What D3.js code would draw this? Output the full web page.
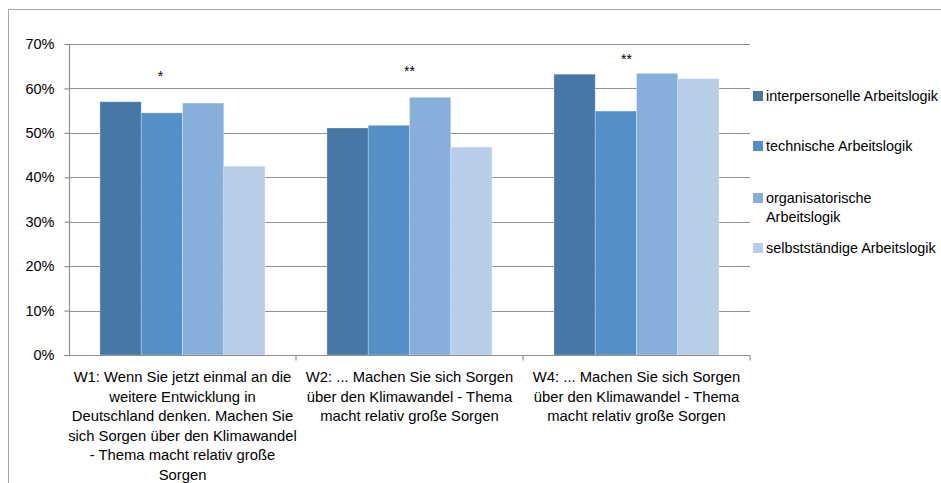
<!DOCTYPE html>
<html>
<head>
<meta charset="utf-8">
<script src="https://cdn.jsdelivr.net/npm/d3@7"></script>
<style>
  body { margin: 0; background: #fff; }
  svg { display: block; font-family: "Liberation Sans", Arial, sans-serif; }
</style>
</head>
<body>
<div id="chart"></div>
<script>
// data
var categories = ["W1", "W2", "W4"];
var catLines = [
  ["W1: Wenn Sie jetzt einmal an die", "weitere Entwicklung in", "Deutschland denken. Machen Sie",
   "sich Sorgen über den Klimawandel", "- Thema macht relativ große", "Sorgen"],
  ["W2: ... Machen Sie sich Sorgen", "über den Klimawandel - Thema", "macht relativ große Sorgen"],
  ["W4: ... Machen Sie sich Sorgen", "über den Klimawandel - Thema", "macht relativ große Sorgen"]
];
var seriesNames = ["interpersonelle Arbeitslogik", "technische Arbeitslogik",
                   "organisatorische Arbeitslogik", "selbstständige Arbeitslogik"];
var legendLines = [["interpersonelle Arbeitslogik"], ["technische Arbeitslogik"],
                   ["organisatorische", "Arbeitslogik"], ["selbstständige Arbeitslogik"]];
var interpersonell = [0.570, 0.511, 0.632];
var technisch      = [0.545, 0.517, 0.549];
var organisatorisch= [0.567, 0.580, 0.634];
var selbststaendig = [0.425, 0.468, 0.622];
var yTicks = [0, 0.1, 0.2, 0.3, 0.4, 0.5, 0.6, 0.7];
var stars = [{cat: "W1", label: "*", v: 0.630, dx: -22},
             {cat: "W2", label: "**", v: 0.642, dx: 0},
             {cat: "W4", label: "**", v: 0.669, dx: -10}];

var colors = ["#4677a7", "#5390c7", "#86afdb", "#b8cde8"];
var allSeries = [interpersonell, technisch, organisatorisch, selbststaendig];

var width = 941, height = 483;
var margin = {top: 44, left: 69, right: 191, bottom: 128};

var svg = d3.select("#chart").append("svg")
    .attr("width", width).attr("height", height);

// outer frame of the chart area
svg.append("path")
    .attr("d", "M8.5," + height + "V9.5H" + width)
    .attr("fill", "none").attr("stroke", "#a6a6a6").attr("stroke-width", 1);

var y = d3.scaleLinear().domain([0, 0.7]).range([height - margin.bottom, margin.top]);
var x0 = d3.scaleBand().domain(categories).range([margin.left, width - margin.right]);
var x1 = d3.scaleBand().domain(d3.range(seriesNames.length))
    .range([0, x0.bandwidth()]).paddingOuter(0.75).paddingInner(0);

// gridlines
svg.append("g").selectAll("line").data(yTicks.slice(1)).enter().append("line")
    .attr("x1", margin.left).attr("x2", width - margin.right)
    .attr("y1", function(d){ return Math.round(y(d)) + 0.5; })
    .attr("y2", function(d){ return Math.round(y(d)) + 0.5; })
    .attr("stroke", "#8f8f8f").attr("stroke-width", 1.2);

// bars
var groups = svg.append("g").selectAll("g").data(categories).enter().append("g")
    .attr("transform", function(d){ return "translate(" + x0(d) + ",0)"; });

groups.selectAll("rect")
    .data(function(d, ci){ return allSeries.map(function(s, si){ return {si: si, v: s[ci]}; }); })
    .enter().append("rect")
    .attr("x", function(d){ return x1(d.si); })
    .attr("width", x1.bandwidth())
    .attr("y", function(d){ return y(d.v); })
    .attr("height", function(d){ return y(0) - y(d.v); })
    .attr("fill", function(d){ return colors[d.si]; })
    .attr("stroke", "rgba(255,255,255,0.35)").attr("stroke-width", 0.8);

// y axis
var yAxis = svg.append("g")
    .attr("transform", "translate(" + (margin.left + 0.5) + ",0)")
    .call(d3.axisLeft(y).tickValues(yTicks).tickFormat(d3.format(".0%")).tickSize(5).tickPadding(10));
yAxis.selectAll("path, line").attr("stroke", "#8f8f8f").attr("stroke-width", 1.2);
yAxis.select(".domain").attr("d", "M0," + y(0.7) + "V" + y(0));
yAxis.selectAll("text").attr("font-size", "14.5px").attr("fill", "#000")
    .attr("font-family", "Liberation Sans, Arial, sans-serif");

// x axis
var base = Math.round(y(0)) + 0.5;
svg.append("line").attr("x1", margin.left - 5).attr("x2", width - margin.right)
    .attr("y1", base).attr("y2", base).attr("stroke", "#8f8f8f").attr("stroke-width", 1.2);
svg.append("g").selectAll("line").data(categories.slice(1).concat(["end"])).enter().append("line")
    .attr("x1", function(d){ return d === "end" ? width - margin.right : x0(d); })
    .attr("x2", function(d){ return d === "end" ? width - margin.right : x0(d); })
    .attr("y1", base).attr("y2", base + 5)
    .attr("stroke", "#8f8f8f").attr("stroke-width", 1.2);

// category labels
var catText = svg.append("g").selectAll("text").data(categories).enter().append("text")
    .attr("text-anchor", "middle").attr("font-size", "14.8px").attr("fill", "#000");
catText.selectAll("tspan").data(function(d, i){ return catLines[i]; }).enter().append("tspan")
    .attr("x", function(){ return x0(d3.select(this.parentNode).datum()) + x0.bandwidth() / 2; })
    .attr("y", function(d, i){ return y(0) + 27 + i * 19.6; })
    .text(function(d){ return d; });

// significance stars
svg.append("g").selectAll("text").data(stars).enter().append("text")
    .attr("x", function(d){ return x0(d.cat) + x0.bandwidth() / 2 + d.dx; })
    .attr("y", function(d){ return y(d.v) + 6; })
    .attr("text-anchor", "middle").attr("font-size", "14px").attr("fill", "#000")
    .text(function(d){ return d.label; });

// legend
var legendY = [96, 146, 198, 248];
var legend = svg.append("g").selectAll("g").data(seriesNames).enter().append("g")
    .attr("transform", function(d, i){ return "translate(753," + legendY[i] + ")"; });
legend.append("rect").attr("x", 0).attr("y", -5).attr("width", 10).attr("height", 10)
    .attr("fill", function(d, i){ return colors[i]; });
legend.append("text").attr("font-size", "14.4px").attr("fill", "#000")
    .selectAll("tspan").data(function(d, i){ return legendLines[i]; }).enter().append("tspan")
    .attr("x", 13).attr("y", function(d, i){ return 5 + i * 19; })
    .text(function(d){ return d; });
</script>
</body>
</html>
